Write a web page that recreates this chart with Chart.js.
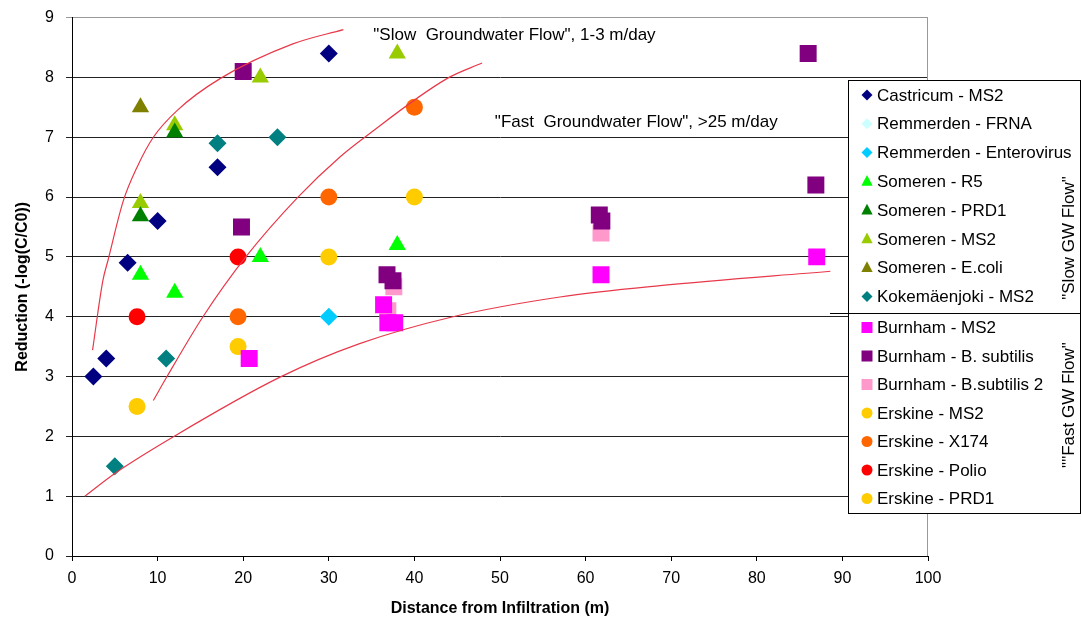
<!DOCTYPE html>
<html>
<head>
<meta charset="utf-8">
<script src="https://cdn.jsdelivr.net/npm/chart.js@4/dist/chart.umd.min.js"></script>
<style>
  html, body { margin: 0; padding: 0; background: #fff; }
  #wrap { width: 1082px; height: 623px; position: relative; }
</style>
</head>
<body>
<div id="wrap"><canvas id="reductionChart" width="1082" height="623"></canvas></div>
<script>
// ---- data: [distance (m), reduction] ----
let castricumMS2 = [[2.5, 3.0], [4, 3.3], [6.5, 4.9], [10, 5.6], [17, 6.5], [30, 8.4]];
let remmerdenFRNA = [];
let remmerdenEntero = [[30, 4.0]];
let somerenR5 = [[8, 4.7], [12, 4.4], [22, 5.0], [38, 5.2]];
let somerenPRD1 = [[8, 5.68], [12, 7.08]];
let somerenMS2 = [[8, 5.9], [12, 7.2], [22, 8.0], [38, 8.4]];
let somerenEcoli = [[8, 7.5]];
let kokemaenjokiMS2 = [[17, 6.9], [24, 7.0], [11, 3.3], [5, 1.5]];
let burnhamMS2 = [[20.7, 3.3], [36.4, 4.2], [36.9, 3.9], [37.7, 3.9], [61.8, 4.7], [87, 5.0]];
let burnhamBsub = [[20, 8.1], [19.8, 5.5], [36.8, 4.7], [37.5, 4.6], [61.6, 5.7], [61.9, 5.6], [86, 8.4], [86.9, 6.2]];
let burnhamBsub2 = [[37.6, 4.5], [36.9, 4.1], [61.8, 5.4]];
let erskineMS2 = [[7.6, 2.5], [19.4, 3.5], [30, 5.0], [40, 6.0]];
let erskineX174 = [[19.4, 4.0], [30, 6.0], [40, 7.5]];
let erskinePolio = [[7.6, 4.0], [19.4, 5.0]];
let erskinePRD1 = [];

// trend curves
let slowCurve = [[2.4, 3.44], [3.6, 4.6], [4.2, 4.94], [6, 5.94], [7.6, 6.5], [9.5, 7.0], [12.3, 7.45], [17.3, 7.98], [25.8, 8.56], [31.7, 8.8]];
let midCurve = [[9.5, 2.6], [11.1, 3.0], [15.3, 4.0], [20.3, 5.0], [26.4, 6.0], [31.3, 6.67], [34.2, 7.0], [43.8, 7.98], [47.9, 8.24]];
let fastCurve = [[1.5, 1.0], [5, 1.38], [11.8, 1.99], [24.3, 2.99], [33.6, 3.55], [44.5, 4.0], [57, 4.33], [68.7, 4.52], [88.6, 4.76]];

let xTicks = [0, 10, 20, 30, 40, 50, 60, 70, 80, 90, 100];
let yTicks = [0, 1, 2, 3, 4, 5, 6, 7, 8, 9];

let seriesNames = ["Castricum - MS2", "Remmerden - FRNA", "Remmerden - Enterovirus", "Someren - R5",
  "Someren - PRD1", "Someren - MS2", "Someren - E.coli", "Kokemäenjoki - MS2",
  "Burnham - MS2", "Burnham - B. subtilis", "Burnham - B.subtilis 2", "Erskine - MS2",
  "Erskine - X174", "Erskine - Polio", "Erskine - PRD1"];
let seriesData = [castricumMS2, remmerdenFRNA, remmerdenEntero, somerenR5, somerenPRD1, somerenMS2,
  somerenEcoli, kokemaenjokiMS2, burnhamMS2, burnhamBsub, burnhamBsub2, erskineMS2, erskineX174,
  erskinePolio, erskinePRD1];
let seriesColors = ["#000080", "#CCFFFF", "#00CCFF", "#00FF00", "#008000", "#99CC00", "#808000", "#008080",
  "#FF00FF", "#800080", "#FF99CC", "#FFCC00", "#FF6600", "#FF0000", "#FFCC00"];
let seriesShapes = ["rectRot", "rectRot", "rectRot", "triangle", "triangle", "triangle", "triangle", "rectRot",
  "rect", "rect", "rect", "circle", "circle", "circle", "circle"];

let markerSize = { rectRot: 9, triangle: 10, rect: 12, circle: 8.5 };
let fontFam = "'Liberation Sans', Arial, sans-serif";

function toPts(list) {
  return list.map(function (p) { return { x: p[0], y: p[1] }; });
}

let datasets = [];
seriesNames.forEach(function (name, i) {
  datasets.push({
    label: name,
    data: toPts(seriesData[i]),
    pointStyle: seriesShapes[i],
    pointRadius: markerSize[seriesShapes[i]],
    pointHoverRadius: markerSize[seriesShapes[i]],
    backgroundColor: seriesColors[i],
    borderColor: seriesColors[i],
    borderWidth: 0,
    showLine: false
  });
});

[slowCurve, midCurve, fastCurve].forEach(function (c) {
  datasets.unshift({
    label: "",
    data: toPts(c),
    showLine: true,
    borderColor: "#E8394A",
    borderWidth: 1.2,
    pointRadius: 0,
    cubicInterpolationMode: "monotone",
    fill: false
  });
});

function drawMarker(ctx, shape, x, y, color) {
  ctx.fillStyle = color;
  ctx.beginPath();
  if (shape === "rectRot") {
    let r = 5.5;
    ctx.moveTo(x - r, y); ctx.lineTo(x, y - r); ctx.lineTo(x + r, y); ctx.lineTo(x, y + r);
  } else if (shape === "triangle") {
    let r = 6.5;
    ctx.moveTo(x, y - r); ctx.lineTo(x + r * 0.87, y + r * 0.5 + 1); ctx.lineTo(x - r * 0.87, y + r * 0.5 + 1);
  } else if (shape === "rect") {
    ctx.rect(x - 5.5, y - 5.5, 11, 11);
  } else {
    ctx.arc(x, y, 5.5, 0, Math.PI * 2);
  }
  ctx.closePath();
  ctx.fill();
}

// legend box with group captions, drawn over the plot
let boxLegend = {
  id: "boxLegend",
  afterDraw: function (chart) {
    let ctx = chart.ctx;
    let left = 848, top = 80, right = 1081, bottom = 513, divY = 313;
    ctx.save();
    ctx.fillStyle = "#fff";
    ctx.fillRect(left, top, right - left, bottom - top);
    ctx.strokeStyle = "#000";
    ctx.lineWidth = 1;
    ctx.strokeRect(left + 0.5, top + 0.5, right - left - 1, bottom - top);
    ctx.beginPath();
    ctx.moveTo(830, divY + 0.5);
    ctx.lineTo(right, divY + 0.5);
    ctx.stroke();

    ctx.font = "17px " + fontFam;
    ctx.textBaseline = "middle";
    ctx.textAlign = "left";
    seriesNames.forEach(function (name, i) {
      let y = i < 8 ? 95 + i * 28.8 : 327.5 + (i - 8) * 28.5;
      drawMarker(ctx, seriesShapes[i], 867, y, seriesColors[i]);
      ctx.fillStyle = "#000";
      ctx.fillText(name, 877, y + 1);
    });

    ctx.textAlign = "center";
    ctx.fillStyle = "#000";
    ctx.translate(1069, 238);
    ctx.rotate(-Math.PI / 2);
    ctx.fillText("\"Slow GW Flow\"", 0, 0);
    ctx.rotate(Math.PI / 2);
    ctx.translate(0, 167);
    ctx.rotate(-Math.PI / 2);
    ctx.fillText("\"\"Fast GW Flow\"", 0, 0);
    ctx.restore();
  }
};

// the two flow captions inside the plot, plus the right frame line
let flowNotes = {
  id: "flowNotes",
  afterDatasetsDraw: function (chart) {
    let ctx = chart.ctx;
    let xs = chart.scales.x, ys = chart.scales.y;
    ctx.save();
    ctx.font = "17px " + fontFam;
    ctx.fillStyle = "#000";
    ctx.textBaseline = "middle";
    ctx.fillText("\"Slow  Groundwater Flow\", 1-3 m/day", xs.getPixelForValue(35.2), ys.getPixelForValue(8.7));
    ctx.fillText("\"Fast  Groundwater Flow\", >25 m/day", xs.getPixelForValue(49.4), ys.getPixelForValue(7.25));
    ctx.strokeStyle = "#999";
    ctx.lineWidth = 1;
    ctx.beginPath();
    ctx.moveTo(chart.chartArea.right - 0.5, chart.chartArea.top);
    ctx.lineTo(chart.chartArea.right - 0.5, chart.chartArea.bottom);
    ctx.stroke();
    ctx.restore();
  }
};

new Chart("reductionChart", {
  type: "scatter",
  data: { datasets: datasets },
  plugins: [flowNotes, boxLegend],
  options: {
    responsive: false,
    animation: false,
    layout: { padding: { left: 0, top: 8, right: 154, bottom: 0 } },
    plugins: {
      legend: { display: false },
      tooltip: { enabled: false }
    },
    scales: {
      x: {
        type: "linear",
        min: 0,
        max: 100,
        afterBuildTicks: function (s) { s.ticks = xTicks.map(function (v) { return { value: v }; }); },
        afterFit: function (s) { s.height = 67; },
        grid: { display: true, drawOnChartArea: false, tickLength: 5, color: "#000" },
        border: { color: "#000", width: 1 },
        ticks: { color: "#000", padding: 8, font: { family: fontFam, size: 16 } },
        title: {
          display: true,
          text: "Distance from Infiltration (m)",
          color: "#000",
          padding: { top: 2, bottom: 5 },
          font: { family: fontFam, size: 16, weight: "bold" }
        }
      },
      y: {
        type: "linear",
        min: 0,
        max: 9,
        afterBuildTicks: function (s) { s.ticks = yTicks.map(function (v) { return { value: v }; }); },
        afterFit: function (s) { s.width = 72; },
        grid: {
          tickLength: 6,
          color: function (c) { return c.tick && c.tick.value === 9 ? "#999" : "#222"; }
        },
        border: { color: "#000", width: 1 },
        ticks: { color: "#000", padding: 12, font: { family: fontFam, size: 16, lineHeight: 0.7 } },
        title: {
          display: true,
          text: "Reduction (-log(C/C0))",
          color: "#000",
          padding: { top: 13, bottom: 6 },
          font: { family: fontFam, size: 16, weight: "bold" }
        }
      }
    }
  }
});
</script>
</body>
</html>
